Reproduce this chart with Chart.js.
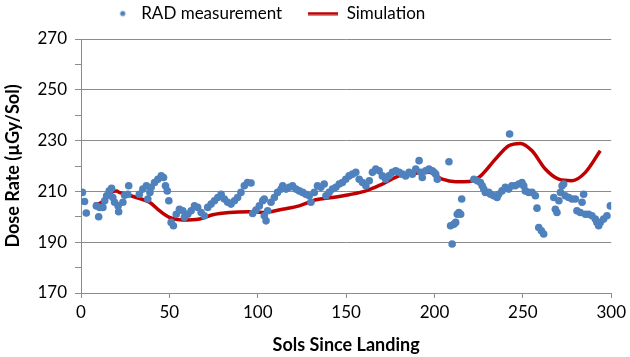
<!DOCTYPE html>
<html>
<head>
<meta charset="utf-8">
<script src="https://cdn.jsdelivr.net/npm/chart.js@4"></script>
<style>
html,body{margin:0;padding:0;background:#fff;}
#wrap{width:630px;height:357px;position:relative;}
</style>
</head>
<body>
<div id="wrap"><canvas id="c" width="630" height="357"></canvas></div>
<script>
// ---- data ----
const measuredSols = [0.8,2,3,8.7,10,10.6,12.4,13.4,14.5,16,17.3,18,19,21,21.3,23.7,24.7,26.5,27,33,35,37,37.8,39,39.7,41.6,43.5,45.4,46.7,47.8,48.8,49.7,51,52.3,53.9,55.7,57.6,58.5,60.4,62.3,64.2,66,68,69.8,71.7,73.6,75.5,77.4,79.3,81.1,83,84.9,86.8,88.6,90.5,92.4,94.2,96.2,97.1,99,100.9,102.8,103.7,103.7,104.7,105.6,107.5,109.4,111.2,113.2,114.1,116,117.8,119.7,121.6,123.5,125.4,127.2,129.1,130.1,132,133.8,135.7,137.6,138.6,140.4,142.3,144.2,146.1,147.9,149.8,151.7,153.6,155.5,157.4,159.3,161.2,163.1,164.9,166.8,168.7,170.5,172.4,174.3,176.2,178.1,180,181.8,183.7,185.6,187.5,189.4,191.3,192.2,193.1,195,196.9,198.8,199.7,200.7,201.6,208.2,209.1,210,211,212,212.9,213.8,214.8,215.4,222.3,224.2,226,227,227.9,228.8,230.7,231.7,233.5,235.4,236.3,238.2,240.1,242,242.5,243.8,245.7,247.7,249.5,250.5,251.4,253.3,255.2,257.1,258,259,260.5,261.8,267.5,268.4,269.3,270.4,271.3,272.2,273.1,274,275.9,277.8,279.7,280.6,282.5,283.5,284.4,285.4,287.2,289.1,291,291.9,292.9,293.8,295.7,297.6,299.5];
const measuredDose = [209.6,206,201.5,204.3,200,203.7,203.7,206.3,208.3,210.2,211.2,207.6,205.7,204.3,202,205.7,208.5,208.9,212.2,208.9,210.9,212.2,207,209.6,211.6,213.5,214.8,216.1,215.5,212.2,210.2,206.3,197.8,196.5,201,203,202.4,199.8,201,202.4,204.3,203.7,201.7,200.4,203.7,205,206.3,207.6,208.9,207,205.7,205,206.3,207.6,209.6,212.2,213.5,213.3,201.3,202.7,204.3,206.3,207,200.4,198.4,202.4,205.7,207.6,209.6,210.9,212.2,210.9,211.6,212.2,210.9,210.2,209.6,208.9,208.3,205.7,209.6,212.2,211.6,212.9,208.3,209.6,210.9,211.6,212.9,213.5,214.8,216.1,216.8,217.5,214.8,213.5,212.2,214.2,217.5,218.8,218.1,216.1,214.8,216.1,217.5,218.1,217.5,216.8,216.1,217.5,216.8,218.8,222.1,217.5,215.5,218.1,218.8,218.1,217.5,216.8,214.8,221.7,196.5,189.3,197.1,197.8,201,201.7,201,207,214.8,214.2,213.5,212.2,210.9,209.6,209.6,208.9,208.3,207.6,208.9,210.2,211.6,210.9,232.6,212.2,212.2,212.9,213.5,212.2,210.2,209.6,209.6,208.3,203.4,195.8,194.5,193.2,207.6,203,201.7,206.3,209.6,212.2,212.9,208.3,207.6,207,207,202.4,201.7,205.7,208.9,201,201,200.4,199.1,197.8,196.5,197.8,199.1,200.4,204.3];

const simSols = [7.7,10.6,14,17,20,22,26,31.3,38.8,44.4,50,57.6,67,74.5,84,95.3,102.8,114,123.5,132.9,142.3,151.7,161.2,170.5,180,189.4,197,204.4,212,219.5,225.1,234.5,242,248.7,255.2,262.7,270.3,277.8,285.4,293.8];
const simDose = [205,205.3,207,209.5,210.2,209.5,208.8,207.6,205.7,202.4,199.8,198.7,199.1,200.8,201.7,202,201.7,203,204.3,206.7,207.6,208.7,210.2,212.9,216.1,217.1,217.5,214.8,213.8,213.9,215.5,222.7,228,228.9,226,218.8,214.8,214.2,217.5,226];

const xTicks = [0,50,100,150,200,250,300];
const yTickLabels = [170,190,210,230,250,270];

const FONT = "Lato, 'Open Sans', sans-serif";
const GRID = '#8c8c8c';

// legend marker images
function dotImg(){const c=document.createElement('canvas');c.width=30;c.height=10;const g=c.getContext('2d');g.fillStyle='#4F81BD';g.beginPath();g.arc(20,5,2.6,0,Math.PI*2);g.fill();return c;}
function lineImg(){const c=document.createElement('canvas');c.width=30;c.height=4;const g=c.getContext('2d');g.fillStyle='#C00000';g.fillRect(0,0.5,30,3);return c;}
const legendImgs=[dotImg(),lineImg()];

const legendPlacer = {
  id:'legendPlacer',
  beforeInit(chart){
    const lg = chart.legend; const f = lg.fit;
    lg.fit = function(){ f.call(this); this.height = 39; };
  },
  afterLayout(chart){
    const lg = chart.legend;
    lg.left = 0; lg.right = 528;
    lg.top = -21; lg.bottom = 39;
  }
};

new Chart(document.getElementById('c'), {
  type:'scatter',
  data:{
    datasets:[
      {label:'RAD measurement', data: measuredSols.map((s,i)=>({x:s,y:measuredDose[i]})),
       backgroundColor:'#4F81BD', borderColor:'#4F81BD', pointRadius:3.8, pointBorderWidth:0, pointHoverRadius:3.8},
      {label:'Simulation', data: simSols.map((s,i)=>({x:s,y:simDose[i]})),
       showLine:true, borderColor:'#C00000', backgroundColor:'#C00000', borderWidth:3.5, pointRadius:0, pointHoverRadius:0,
       cubicInterpolationMode:'monotone', fill:false}
    ]
  },
  options:{
    responsive:false, animation:false,
    layout:{padding:{left:0,right:18,top:0,bottom:0}},
    plugins:{
      tooltip:{enabled:false},
      legend:{
        position:'top', align:'center',
        labels:{
          usePointStyle:true, pointStyleWidth:30, boxHeight:10,
          font:{family:FONT,size:17}, color:'#000', padding:26,
          generateLabels(chart){
            const items = Chart.defaults.plugins.legend.labels.generateLabels(chart);
            items.forEach((it,i)=>{it.pointStyle = legendImgs[i];});
            return items;
          }
        }
      }
    },
    scales:{
      x:{
        type:'linear', min:0, max:300,
        afterBuildTicks(s){ s.ticks = xTicks.map(v=>({value:v})); },
        afterFit(s){ s.height = 64; },
        grid:{display:true, drawOnChartArea:false, drawTicks:true, tickLength:5, color:GRID, tickColor:GRID},
        border:{display:true, color:GRID, width:1},
        ticks:{font:{family:FONT,size:17}, color:'#000', padding:4, maxRotation:0},
        title:{display:true, text:'Sols Since Landing', font:{family:FONT,size:18,weight:'bold'}, color:'#000', padding:{top:0,bottom:1}}
      },
      y:{
        type:'linear', min:170, max:270,
        ticks:{stepSize:5, font:{family:FONT,size:17}, color:'#000', padding:8,
          callback(v){ return yTickLabels.includes(v) ? String(v) : ''; }},
        afterFit(s){ s.width = 81; },
        grid:{drawTicks:true, tickLength:6,
          color(ctx){ return ctx.tick && yTickLabels.includes(ctx.tick.value) ? GRID : 'rgba(0,0,0,0)'; },
          tickColor:GRID},
        border:{display:true, color:GRID, width:1},
        title:{display:true, text:'Dose Rate (\u00b5Gy/Sol)', font:{family:FONT,size:18,weight:'bold'}, color:'#000', padding:{top:2,bottom:0}}
      }
    }
  },
  plugins:[legendPlacer]
});
</script>
</body>
</html>
